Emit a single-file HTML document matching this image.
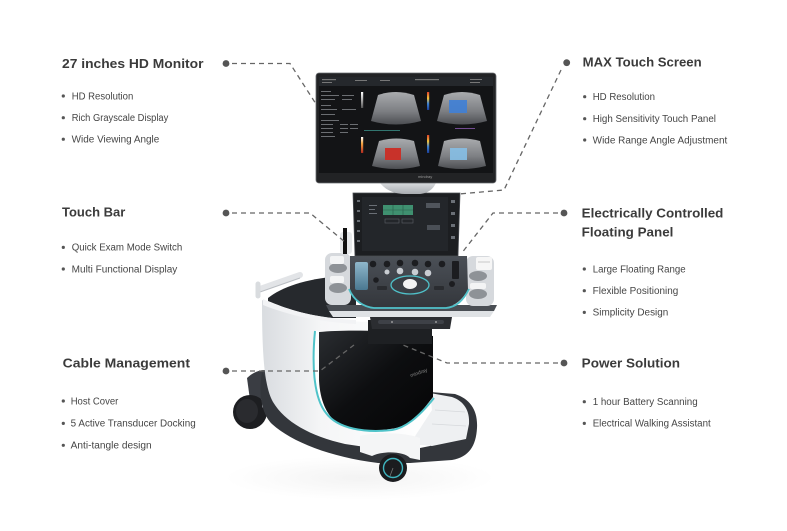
<!DOCTYPE html>
<html><head><meta charset="utf-8">
<style>
html,body{margin:0;padding:0;background:#fff;}
svg{display:block;}
text{font-family:"Liberation Sans",Arial,sans-serif;}
.t{font-weight:bold;font-size:13px;fill:#3b3b3b;}
.b{font-size:9.8px;fill:#454545;}
.d{fill:#555;}
.c{fill:none;stroke:#666;stroke-width:1.3;stroke-dasharray:5 4;}
</style></head><body>
<svg width="787" height="531" viewBox="0 0 787 531" xmlns="http://www.w3.org/2000/svg">
<defs>
<linearGradient id="shell" x1="0" y1="0" x2="1" y2="0">
<stop offset="0" stop-color="#d9dce0"/><stop offset="0.35" stop-color="#f5f6f7"/><stop offset="1" stop-color="#ffffff"/>
</linearGradient>
<linearGradient id="blk" x1="0" y1="0" x2="1" y2="1">
<stop offset="0" stop-color="#2a2d31"/><stop offset="0.5" stop-color="#0d0e10"/><stop offset="1" stop-color="#050506"/>
</linearGradient>
<linearGradient id="panel" x1="0" y1="0" x2="0" y2="1">
<stop offset="0" stop-color="#4b5057"/><stop offset="1" stop-color="#34373c"/>
</linearGradient>
<linearGradient id="us" x1="0" y1="0" x2="0" y2="1">
<stop offset="0" stop-color="#a9abae"/><stop offset="0.6" stop-color="#7c7e82"/><stop offset="1" stop-color="#4c4e52"/>
</linearGradient>
<linearGradient id="silver" x1="0" y1="0" x2="0" y2="1">
<stop offset="0" stop-color="#e6e8ea"/><stop offset="1" stop-color="#a9adb2"/>
</linearGradient>
<linearGradient id="rb" x1="0" y1="0" x2="0" y2="1">
<stop offset="0" stop-color="#e0402a"/><stop offset="0.35" stop-color="#f2c23a"/><stop offset="0.65" stop-color="#3a7fd0"/><stop offset="1" stop-color="#1b3f9a"/>
</linearGradient>
<linearGradient id="ob" x1="0" y1="0" x2="0" y2="1">
<stop offset="0" stop-color="#ffffff"/><stop offset="0.4" stop-color="#f3a640"/><stop offset="1" stop-color="#b3281e"/>
</linearGradient>
<linearGradient id="gb" x1="0" y1="0" x2="0" y2="1">
<stop offset="0" stop-color="#ffffff"/><stop offset="1" stop-color="#555"/>
</linearGradient>
<linearGradient id="scr" x1="0" y1="0" x2="0" y2="1">
<stop offset="0" stop-color="#8fb7cb"/><stop offset="1" stop-color="#4a7891"/>
</linearGradient>
<radialGradient id="refl" cx="0.5" cy="0.5" r="0.5">
<stop offset="0" stop-color="#f3f3f3"/><stop offset="1" stop-color="#ffffff"/>
</radialGradient>
</defs>

<!-- floor reflection -->
<ellipse cx="360" cy="478" rx="135" ry="22" fill="url(#refl)"/>

<!-- rear wheel & foot -->
<path d="M247,378 C255,370 266,368 272,372 L274,398 L250,400 Z" fill="#3a3d43"/>
<ellipse cx="250" cy="412" rx="17" ry="17" fill="#1d1e21"/>
<ellipse cx="247" cy="411" rx="11" ry="12" fill="#2a2b2f"/>
<rect x="262" y="398" width="10" height="10" rx="2" fill="#b9bdc2"/>

<!-- dark base -->
<path d="M262,372 L272,388 C285,418 320,438 378,450 L410,450 L430,446 L430,392 L455,394 C470,399 478,410 477,428 C476,446 469,457 452,460 L410,463 L378,463 C330,457 292,442 272,424 C262,414 258,395 262,372 Z" fill="#33363b"/>

<!-- white shell -->
<path d="M262,300 C288,313 318,320 368,322 L368,333 L316,331 C312,365 314,398 327,415 C342,430 368,433 393,429 L432,398 L432,440 C420,445 400,448 385,450 L345,444 C310,436 285,422 273,402 C265,388 262,360 262,300 Z" fill="url(#shell)"/>
<!-- right white platform -->
<path d="M430,393 L452,397 C464,401 470,411 469,424 L466,439 L432,446 L410,444 L432,410 Z" fill="#eef0f2"/>
<line x1="435" y1="410" x2="465" y2="412" stroke="#d6d9dc" stroke-width="0.8"/>
<line x1="432" y1="424" x2="466" y2="426" stroke="#d6d9dc" stroke-width="0.8"/>

<!-- front fender and wheel -->
<path d="M360,436 C375,432 405,432 420,438 L420,460 L410,458 C405,452 385,450 372,456 L360,452 Z" fill="#f4f5f6"/>
<circle cx="393" cy="468" r="14" fill="#1b1c1f"/>
<circle cx="393" cy="468" r="9.5" fill="none" stroke="#3fb5bf" stroke-width="1.4"/>
<line x1="393" y1="468" x2="390" y2="476" stroke="#777" stroke-width="0.8"/>

<!-- black panel -->
<path d="M319,332 C350,329 400,331 433,336 L433,397 L418,416 C410,424 400,428 390,429 C370,432 348,430 337,423 C326,414 320,400 319,380 Z" fill="url(#blk)"/>
<path d="M315,331 C312,362 313,397 326,413 C338,429 365,433 392,430 C405,428 418,418 434,398" fill="none" stroke="#4fc3c9" stroke-width="2"/>
<text x="410" y="376" font-size="5" fill="#888" transform="rotate(-20 414 374)">mindray</text>

<!-- neck -->
<rect x="368" y="320" width="64" height="24" fill="#1e2023"/>

<!-- back dark shelf -->
<path d="M268,298 C282,287 305,279 340,276 L356,275 L356,318 L332,318 C305,315 285,308 268,301 Z" fill="#26292d"/>
<path d="M263,299 C288,311 318,318 356,320 L356,324 C318,322 288,315 263,305 Z" fill="#f2f3f5"/>
<!-- left handle -->
<line x1="260" y1="289" x2="300" y2="275" stroke="#e2e4e7" stroke-width="6" stroke-linecap="round"/>
<line x1="260" y1="292" x2="300" y2="278" stroke="#b9bdc2" stroke-width="1"/>
<line x1="258" y1="284" x2="258" y2="296" stroke="#d9dcdf" stroke-width="5" stroke-linecap="round"/>

<!-- tray bar -->
<path d="M326,305 L497,305 L494,311 L329,311 Z" fill="#4a4e54"/>
<path d="M329,311 L494,311 L490,317 L333,317 Z" fill="#dfe2e5"/>
<path d="M370,317 L452,317 L450,329 L372,329 Z" fill="#2b2d31"/>
<rect x="378" y="320" width="66" height="4" rx="2" fill="#3e4147"/>
<circle cx="392" cy="322" r="1" fill="#999"/><circle cx="436" cy="322" r="1" fill="#999"/>

<!-- transducer holders -->
<rect x="325" y="253" width="26" height="52" rx="7" fill="#d6d9dd"/>
<ellipse cx="338" cy="268" rx="9" ry="5" fill="#8e9297"/>
<ellipse cx="338" cy="288" rx="9" ry="5" fill="#8e9297"/>
<rect x="330" y="256" width="14" height="8" rx="2" fill="#f3f4f5"/>
<rect x="330" y="276" width="14" height="7" rx="2" fill="#f3f4f5"/>
<rect x="466" y="256" width="28" height="50" rx="7" fill="#d6d9dd"/>
<rect x="476" y="257" width="16" height="13" rx="2" fill="#f6f6f6"/>
<line x1="478" y1="262" x2="490" y2="262" stroke="#aaa" stroke-width="0.6"/>
<ellipse cx="478" cy="276" rx="9" ry="5" fill="#8e9297"/>
<ellipse cx="478" cy="294" rx="9" ry="5" fill="#8e9297"/>
<rect x="470" y="283" width="16" height="6" rx="2" fill="#f3f4f5"/>

<!-- control panel -->
<path d="M350,256 L467,256 L468,290 C462,300 455,306 446,307 L373,307 C363,306 355,300 350,291 Z" fill="url(#panel)"/>
<path d="M349,289 C354,301 364,307 374,308 L446,308 C456,307 463,301 469,289" fill="none" stroke="#4fc0c8" stroke-width="1.8"/>
<rect x="355" y="262" width="13" height="28" rx="2" fill="url(#scr)"/>
<g fill="#1c1d20">
<circle cx="373" cy="264" r="3.3"/><circle cx="387" cy="264" r="3.3"/><circle cx="400" cy="263" r="3.3"/>
<circle cx="415" cy="263" r="3.3"/><circle cx="428" cy="264" r="3.3"/><circle cx="442" cy="264" r="3.3"/>
<circle cx="452" cy="284" r="3"/><circle cx="376" cy="280" r="2.8"/>
</g>
<g fill="#c9cdd2">
<circle cx="400" cy="271" r="3.3"/><circle cx="415" cy="272" r="3.3"/><circle cx="428" cy="273" r="3.3"/><circle cx="387" cy="272" r="2.5"/>
</g>
<rect x="452" y="261" width="7" height="18" rx="1" fill="#1c1d20"/>
<rect x="377" y="286" width="10" height="4" rx="1" fill="#2a2c30"/>
<rect x="434" y="286" width="10" height="4" rx="1" fill="#2a2c30"/>
<ellipse cx="410" cy="285" rx="19" ry="9" fill="#3a3e44" stroke="#4fc0c8" stroke-width="1.3"/>
<ellipse cx="410" cy="284" rx="7" ry="5" fill="#f3f3f3"/>

<!-- touch bar handle -->
<rect x="340" y="232" width="12" height="22" rx="3" fill="#e7e9eb"/>
<rect x="343" y="228" width="4" height="26" fill="#111"/>

<!-- touch screen -->
<path d="M353,193 L460,193 L458,256 L355,256 Z" fill="#1c1e21" stroke="#4a4d52" stroke-width="0.8"/>
<rect x="362" y="197" width="86" height="54" fill="#23262a"/>
<rect x="383" y="205" width="30" height="10" fill="#3f9070"/>
<line x1="393" y1="205" x2="393" y2="215" stroke="#2a5d4a" stroke-width="0.6"/>
<line x1="403" y1="205" x2="403" y2="215" stroke="#2a5d4a" stroke-width="0.6"/>
<line x1="383" y1="210" x2="413" y2="210" stroke="#2a5d4a" stroke-width="0.6"/>
<rect x="426" y="203" width="14" height="5" fill="#50555c"/>
<rect x="385" y="219" width="14" height="4" fill="none" stroke="#5a5f66" stroke-width="0.6"/>
<rect x="402" y="219" width="11" height="4" fill="none" stroke="#5a5f66" stroke-width="0.6"/>
<rect x="427" y="225" width="13" height="5" fill="#4a4f56"/>
<g fill="#6a6f76">
<rect x="357" y="200" width="3" height="2"/><rect x="357" y="210" width="3" height="2"/><rect x="357" y="220" width="3" height="2"/><rect x="357" y="230" width="3" height="2"/><rect x="357" y="240" width="3" height="2"/>
<rect x="451" y="200" width="4" height="3"/><rect x="451" y="212" width="4" height="3"/><rect x="451" y="224" width="4" height="3"/><rect x="451" y="236" width="4" height="3"/>
<rect x="369" y="205" width="8" height="1"/><rect x="369" y="209" width="6" height="1"/><rect x="369" y="213" width="8" height="1"/>
</g>

<!-- monitor stand -->
<path d="M378,180 C384,190 394,194 405,194 L420,194 C430,193 435,187 437,180 Z" fill="url(#silver)"/>

<!-- monitor -->
<rect x="316" y="73" width="180" height="110" rx="3" fill="#222325" stroke="#6a6c70" stroke-width="0.8"/>
<rect x="319" y="77" width="174" height="96" fill="#131416"/>
<rect x="319" y="77" width="174" height="9" fill="#25282c"/>
<g fill="#777">
<rect x="322" y="79" width="14" height="1.2"/><rect x="322" y="82" width="10" height="1"/><rect x="355" y="80" width="12" height="1"/>
<rect x="380" y="80" width="10" height="1"/><rect x="415" y="79" width="24" height="1.2"/><rect x="470" y="79" width="12" height="1"/><rect x="470" y="82" width="10" height="1"/>
</g>
<g fill="#6b6e72">
<rect x="321" y="91" width="10" height="1"/><rect x="321" y="95" width="18" height="1"/><rect x="342" y="95" width="12" height="1"/>
<rect x="321" y="99" width="14" height="1"/><rect x="342" y="99" width="10" height="1"/>
<rect x="321" y="105" width="10" height="1"/><rect x="321" y="109" width="16" height="1"/><rect x="342" y="109" width="14" height="1"/>
<rect x="321" y="114" width="14" height="1"/><rect x="321" y="120" width="18" height="1"/>
<rect x="321" y="124" width="12" height="1"/><rect x="340" y="124" width="8" height="1"/><rect x="350" y="124" width="8" height="1"/>
<rect x="321" y="128" width="12" height="1"/><rect x="340" y="128" width="8" height="1"/><rect x="350" y="128" width="8" height="1"/>
<rect x="321" y="132" width="12" height="1"/><rect x="340" y="132" width="8" height="1"/>
<rect x="321" y="136" width="14" height="1"/>
</g>
<!-- ultrasound images -->
<path d="M378,95 Q396,89 414,95 L421,121 Q396,128 371,121 Z" fill="url(#us)"/>
<path d="M444,95 Q462,89 480,95 L487,121 Q462,128 437,121 Z" fill="url(#us)"/>
<path d="M379,141 Q396,136 414,141 L420,166 Q396,172 372,166 Z" fill="url(#us)"/>
<path d="M444,141 Q462,136 480,141 L486,166 Q462,172 438,166 Z" fill="url(#us)"/>
<rect x="449" y="100" width="18" height="13" fill="#3f7fd6" opacity="0.9"/>
<rect x="385" y="148" width="16" height="12" fill="#c8322a"/>
<rect x="450" y="148" width="17" height="12" fill="#86bfe6" opacity="0.9"/>
<rect x="361" y="92" width="2.2" height="16" fill="url(#gb)"/>
<rect x="427" y="92" width="2.2" height="18" fill="url(#rb)"/>
<rect x="361" y="137" width="2.2" height="16" fill="url(#ob)"/>
<rect x="427" y="135" width="2.2" height="18" fill="url(#rb)"/>
<rect x="364" y="130" width="36" height="0.8" fill="#3a8f86"/>
<rect x="455" y="128" width="20" height="0.8" fill="#8a5ab0"/>
<text x="418" y="178" font-size="4" fill="#999">mindray</text>

<!-- connectors -->
<polyline class="c" points="232,63.5 290,63.5 316,104"/>
<circle class="d" cx="226" cy="63.5" r="3.4"/>
<polyline class="c" points="561,70 504,190 459,194"/>
<circle class="d" cx="566.7" cy="62.7" r="3.4"/>
<polyline class="c" points="232,213 310,213 345,242"/>
<circle class="d" cx="226" cy="213" r="3.4"/>
<polyline class="c" points="558,213 493,213 461,254"/>
<circle class="d" cx="564" cy="213" r="3.4"/>
<polyline class="c" points="558,363 447,363 403,345"/>
<circle class="d" cx="564" cy="363" r="3.4"/>
<polyline class="c" points="232,371 320,371 354,345"/>
<circle class="d" cx="226" cy="371" r="3.4"/>

<!-- left texts -->
<text class="t" x="62" y="68" textLength="141.5" lengthAdjust="spacingAndGlyphs">27 inches HD Monitor</text>
<text class="b" x="71.7" y="99.3" textLength="61.6" lengthAdjust="spacingAndGlyphs">HD Resolution</text>
<text class="b" x="71.7" y="121" textLength="96.6" lengthAdjust="spacingAndGlyphs">Rich Grayscale Display</text>
<text class="b" x="71.7" y="142.5" textLength="87.6" lengthAdjust="spacingAndGlyphs">Wide Viewing Angle</text>
<circle class="d" cx="63.3" cy="96" r="1.6"/><circle class="d" cx="63.3" cy="117.7" r="1.6"/><circle class="d" cx="63.3" cy="139.2" r="1.6"/>

<text class="t" x="62" y="216.6" textLength="63.3" lengthAdjust="spacingAndGlyphs">Touch Bar</text>
<text class="b" x="71.7" y="250.7" textLength="110.6" lengthAdjust="spacingAndGlyphs">Quick Exam Mode Switch</text>
<text class="b" x="71.7" y="272.3" textLength="105.6" lengthAdjust="spacingAndGlyphs">Multi Functional Display</text>
<circle class="d" cx="63.3" cy="247.4" r="1.6"/><circle class="d" cx="63.3" cy="269" r="1.6"/>

<text class="t" x="62.7" y="367.6" textLength="127.3" lengthAdjust="spacingAndGlyphs">Cable Management</text>
<text class="b" x="70.7" y="404.3" textLength="47.6" lengthAdjust="spacingAndGlyphs">Host Cover</text>
<text class="b" x="70.7" y="426.7" textLength="125" lengthAdjust="spacingAndGlyphs">5 Active Transducer Docking</text>
<text class="b" x="70.7" y="448.6" textLength="81" lengthAdjust="spacingAndGlyphs">Anti-tangle design</text>
<circle class="d" cx="63.3" cy="401" r="1.6"/><circle class="d" cx="63.3" cy="423.4" r="1.6"/><circle class="d" cx="63.3" cy="445.3" r="1.6"/>

<!-- right texts -->
<text class="t" x="582.7" y="66.7" textLength="119" lengthAdjust="spacingAndGlyphs">MAX Touch Screen</text>
<text class="b" x="592.7" y="100" textLength="62.3" lengthAdjust="spacingAndGlyphs">HD Resolution</text>
<text class="b" x="592.7" y="122" textLength="123.3" lengthAdjust="spacingAndGlyphs">High Sensitivity Touch Panel</text>
<text class="b" x="592.7" y="143.3" textLength="134.6" lengthAdjust="spacingAndGlyphs">Wide Range Angle Adjustment</text>
<circle class="d" cx="584.7" cy="96.7" r="1.6"/><circle class="d" cx="584.7" cy="118.7" r="1.6"/><circle class="d" cx="584.7" cy="140" r="1.6"/>

<text class="t" x="581.7" y="217.3" textLength="141.7" lengthAdjust="spacingAndGlyphs">Electrically Controlled</text>
<text class="t" x="581.7" y="236.7" textLength="91.7" lengthAdjust="spacingAndGlyphs">Floating Panel</text>
<text class="b" x="592.7" y="272.3" textLength="93" lengthAdjust="spacingAndGlyphs">Large Floating Range</text>
<text class="b" x="592.7" y="294" textLength="85.6" lengthAdjust="spacingAndGlyphs">Flexible Positioning</text>
<text class="b" x="592.7" y="315.7" textLength="75.6" lengthAdjust="spacingAndGlyphs">Simplicity Design</text>
<circle class="d" cx="584.3" cy="269" r="1.6"/><circle class="d" cx="584.3" cy="290.7" r="1.6"/><circle class="d" cx="584.3" cy="312.4" r="1.6"/>

<text class="t" x="581.7" y="367.7" textLength="98.3" lengthAdjust="spacingAndGlyphs">Power Solution</text>
<text class="b" x="592.7" y="405" textLength="105" lengthAdjust="spacingAndGlyphs">1 hour Battery Scanning</text>
<text class="b" x="592.7" y="426.7" textLength="118" lengthAdjust="spacingAndGlyphs">Electrical Walking Assistant</text>
<circle class="d" cx="584.3" cy="401.7" r="1.6"/><circle class="d" cx="584.3" cy="423.4" r="1.6"/>
</svg>
</body></html>
